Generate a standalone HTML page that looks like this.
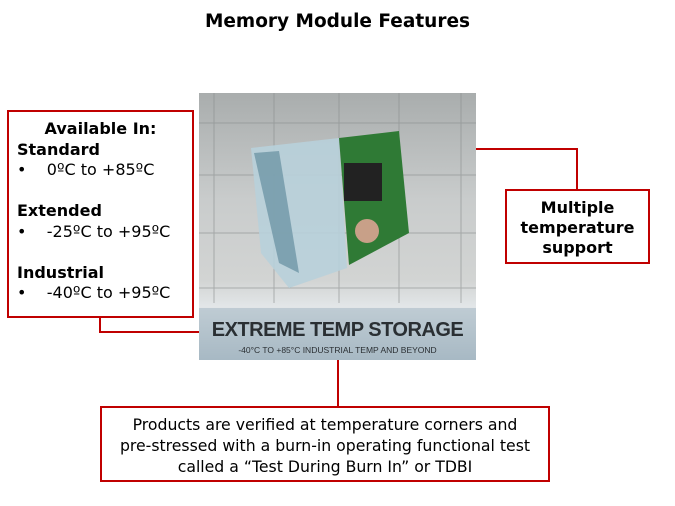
<!DOCTYPE html>
<html><head><style>
body{margin:0;width:675px;height:506px;background:#fff;position:relative;font-family:"DejaVu Sans","Liberation Sans",sans-serif;overflow:hidden}
.a{position:absolute}
.box{position:absolute;border:2px solid #c00000;background:#fff;box-sizing:border-box}
.ln{position:absolute;background:#c00000}
</style></head><body>
<div class="a" style="left:0;width:675px;top:11px;text-align:center;font-weight:bold;font-size:18.5px">Memory Module Features</div>

<div class="a" style="left:199px;top:93px;width:277px;height:267px;background:linear-gradient(180deg,#a9adad 0%,#c9cccc 40%,#d2d4d3 70%,#e2e6e8 80%,#a6b6c0 100%);overflow:hidden">
 <svg width="277" height="267" style="position:absolute;left:0;top:0">
  <g stroke="#8a8e8e" stroke-width="1" opacity="0.6">
   <line x1="15" y1="0" x2="15" y2="210"/><line x1="75" y1="0" x2="75" y2="210"/><line x1="140" y1="0" x2="140" y2="210"/><line x1="200" y1="0" x2="200" y2="210"/><line x1="262" y1="0" x2="262" y2="210"/>
   <line x1="0" y1="30" x2="277" y2="30"/><line x1="0" y1="82" x2="277" y2="82"/><line x1="0" y1="140" x2="277" y2="140"/><line x1="0" y1="195" x2="277" y2="195"/>
  </g>
  <polygon points="52,55 140,45 148,175 90,195 62,160" fill="#b8d0da" opacity="0.9"/>
  <polygon points="55,60 80,58 100,180 80,170" fill="#6f96a6" opacity="0.8"/>
  <polygon points="140,45 200,38 210,140 150,172" fill="#2f7a35"/>
  <rect x="145" y="70" width="38" height="38" fill="#222"/>
  <circle cx="168" cy="138" r="12" fill="#c8a088"/>
  <rect x="0" y="215" width="277" height="52" fill="#a8bbc6" opacity="0.6"/>
 </svg>
 <div class="a" style="left:0;width:277px;top:226px;text-align:center;font-family:'Liberation Sans',sans-serif;font-weight:bold;font-size:20px;color:#2a2f33;letter-spacing:-0.5px">EXTREME TEMP STORAGE</div>
 <div class="a" style="left:0;width:277px;top:252px;text-align:center;font-family:'Liberation Sans',sans-serif;font-size:8.5px;color:#2a2f33">-40°C TO +85°C INDUSTRIAL TEMP AND BEYOND</div>
</div>

<div class="ln" style="left:99px;top:316px;width:2px;height:17px"></div>
<div class="ln" style="left:99px;top:331px;width:100px;height:2px"></div>
<div class="ln" style="left:476px;top:148px;width:101px;height:2px"></div>
<div class="ln" style="left:576px;top:148px;width:2px;height:42px"></div>
<div class="ln" style="left:337px;top:360px;width:2px;height:47px"></div>

<div class="box" style="left:7px;top:110px;width:187px;height:208px;font-size:16px;line-height:20.5px;padding:7px 0 0 8px;white-space:nowrap">
 <div style="font-weight:bold;text-align:center;padding-right:8px">Available In:</div>
 <div style="font-weight:bold">Standard</div>
 <div>•&nbsp;&nbsp;&nbsp;&nbsp;0ºC to +85ºC</div>
 <div>&nbsp;</div>
 <div style="font-weight:bold">Extended</div>
 <div>•&nbsp;&nbsp;&nbsp;&nbsp;-25ºC to +95ºC</div>
 <div>&nbsp;</div>
 <div style="font-weight:bold">Industrial</div>
 <div>•&nbsp;&nbsp;&nbsp;&nbsp;-40ºC to +95ºC</div>
</div>

<div class="box" style="left:505px;top:189px;width:145px;height:75px;font-size:16px;font-weight:bold;text-align:center;line-height:20px;padding-top:7px">Multiple<br>temperature<br>support</div>

<div class="box" style="left:100px;top:406px;width:450px;height:76px;font-size:15.7px;text-align:center;line-height:21px;padding-top:6px;white-space:nowrap">Products are verified at temperature corners and<br>pre-stressed with a burn-in operating functional test<br>called a “Test During Burn In” or TDBI</div>
</body></html>
